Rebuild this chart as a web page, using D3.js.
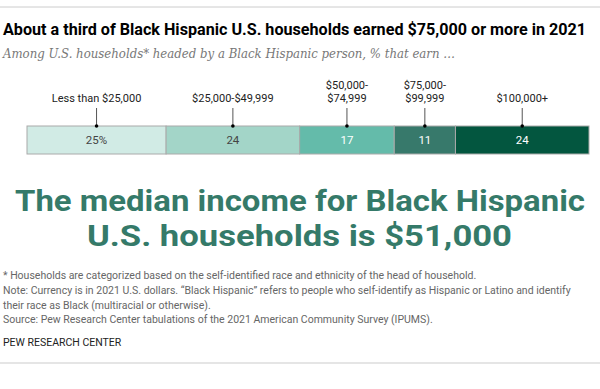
<!DOCTYPE html>
<html>
<head>
<meta charset="utf-8">
<script src="https://cdn.jsdelivr.net/npm/d3@7"></script>
<style>
  body { margin: 0; background: #fff; }
  svg { display: block; font-family: Roboto, "Liberation Sans", sans-serif; }
</style>
</head>
<body>
<div id="chart"></div>
<script>
// income brackets and share of households
const brackets = [["Less than $25,000"], ["$25,000-$49,999"], ["$50,000-", "$74,999"], ["$75,000-", "$99,999"], ["$100,000+"]];
const shares = [25, 24, 17, 11, 24];
const shareLabels = ["25%", "24", "17", "11", "24"];
const colors = ["#d1ebe5", "#a3d5c8", "#64bbaa", "#37796b", "#03563f"];
const textColors = ["#444", "#444", "#fff", "#fff", "#fff"];

const footnotes = [
  "* Households are categorized based on the self-identified race and ethnicity of the head of household.",
  "Note: Currency is in 2021 U.S. dollars. \u201cBlack Hispanic\u201d refers to people who self-identify as Hispanic or Latino and identify",
  "their race as Black (multiracial or otherwise).",
  "Source: Pew Research Center tabulations of the 2021 American Community Survey (IPUMS)."
];

const w = 600, h = 389;
const svg = d3.select("#chart").append("svg").attr("width", w).attr("height", h);

svg.append("line").attr("x1", 0).attr("x2", w).attr("y1", 7).attr("y2", 7)
  .attr("stroke", "#ccc").attr("stroke-width", 1);

svg.append("text").attr("x", 3).attr("y", 35)
  .attr("font-size", 16).attr("font-weight", "bold").attr("fill", "#000")
  .attr("textLength", 583).attr("lengthAdjust", "spacingAndGlyphs")
  .text("About a third of Black Hispanic U.S. households earned $75,000 or more in 2021");

svg.append("text").attr("x", 3).attr("y", 58)
  .attr("font-family", "'DejaVu Serif', serif").attr("font-style", "italic")
  .attr("font-size", 12).attr("fill", "#777")
  .attr("textLength", 452).attr("lengthAdjust", "spacingAndGlyphs")
  .text("Among U.S. households* headed by a Black Hispanic person, % that earn \u2026");

// stacked bar
let acc = 0;
const stack = shares.map((v, i) => { const s = { i, x0: acc, x1: acc + v }; acc += v; return s; });

const x = d3.scaleLinear().domain([0, d3.sum(shares)]).range([27, 589]);
const barTop = 126, barH = 28;
const mid = d => (x(d.x0) + x(d.x1)) / 2;

const seg = svg.append("g").selectAll("g").data(stack).enter().append("g");

seg.append("rect")
  .attr("x", d => x(d.x0)).attr("width", d => x(d.x1) - x(d.x0))
  .attr("y", barTop).attr("height", barH)
  .attr("fill", d => colors[d.i])
  .attr("stroke", "#aaa").attr("stroke-width", 1);

seg.append("text")
  .attr("x", mid).attr("y", barTop + 18)
  .attr("text-anchor", "middle").attr("font-size", 11.5)
  .attr("fill", d => textColors[d.i])
  .text(d => shareLabels[d.i]);

// leader lines + labels
seg.append("line")
  .attr("x1", mid).attr("x2", mid)
  .attr("y1", 108).attr("y2", barTop)
  .attr("stroke", "#555").attr("stroke-width", 1);

seg.append("circle")
  .attr("cx", mid).attr("cy", barTop)
  .attr("r", 1.8).attr("fill", "#000");

seg.append("text")
  .attr("text-anchor", "middle").attr("font-size", 11).attr("fill", "#222")
  .each(function(d) {
    const lines = brackets[d.i];
    const t = d3.select(this);
    lines.forEach((l, j) => {
      t.append("tspan")
        .attr("x", mid(d))
        .attr("y", 102 - (lines.length - 1 - j) * 13)
        .text(l);
    });
  });

// headline
const big = svg.append("g").attr("font-size", 30).attr("font-weight", "bold").attr("fill", "#357a69");
big.append("text").attr("x", 15).attr("y", 211)
  .attr("textLength", 570).attr("lengthAdjust", "spacingAndGlyphs")
  .text("The median income for Black Hispanic");
big.append("text").attr("x", 87).attr("y", 246)
  .attr("textLength", 425).attr("lengthAdjust", "spacingAndGlyphs")
  .text("U.S. households is $51,000");

svg.append("g").selectAll("text").data(footnotes).enter().append("text")
  .attr("x", 3).attr("y", (d, i) => 279 + i * 14.8)
  .attr("font-size", 10.5).attr("fill", "#666")
  .text(d => d);

svg.append("text").attr("x", 3).attr("y", 346)
  .attr("font-size", 10.5).attr("fill", "#222")
  .text("PEW RESEARCH CENTER");

svg.append("line").attr("x1", 0).attr("x2", w).attr("y1", 363).attr("y2", 363)
  .attr("stroke", "#ddd").attr("stroke-width", 1.5);
</script>
</body>
</html>
